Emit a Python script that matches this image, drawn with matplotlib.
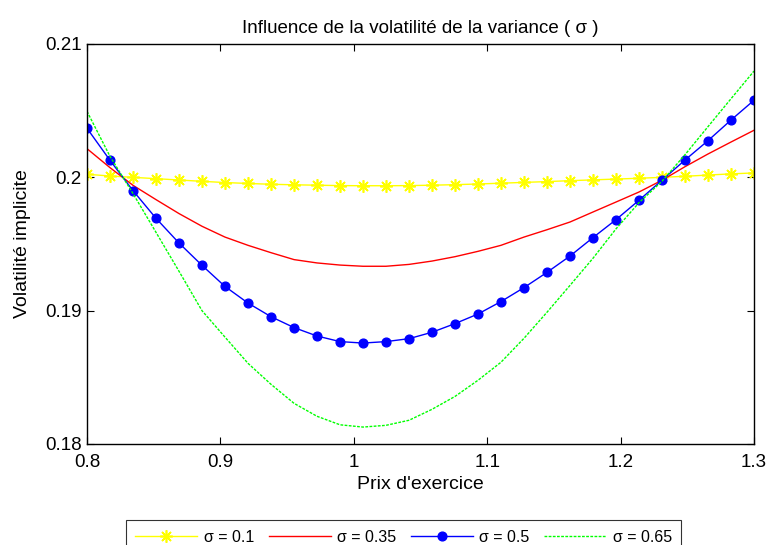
import matplotlib
matplotlib.use("Agg")
import matplotlib.pyplot as plt

plt.rcParams['font.family'] = ['Liberation Sans', 'DejaVu Sans']

# Strike grid (prix d'exercice)
strikes = [0.8000, 0.8172, 0.8345, 0.8517, 0.8690, 0.8862, 0.9034, 0.9207,
           0.9379, 0.9552, 0.9724, 0.9897, 1.0069, 1.0241, 1.0414, 1.0586,
           1.0759, 1.0931, 1.1103, 1.1276, 1.1448, 1.1621, 1.1793, 1.1966,
           1.2138, 1.2310, 1.2483, 1.2655, 1.2828, 1.3000]

# Implied volatility for each volatility-of-variance level
iv_s010 = [0.20023, 0.20010, 0.20000, 0.19990, 0.19980, 0.19970, 0.19961, 0.19954,
           0.19948, 0.19944, 0.19941, 0.19938, 0.19937, 0.19937, 0.19938, 0.19941,
           0.19945, 0.19950, 0.19956, 0.19962, 0.19968, 0.19975, 0.19981, 0.19987,
           0.19993, 0.20000, 0.20008, 0.20017, 0.20026, 0.20033]
iv_s035 = [0.20215, 0.20073, 0.19940, 0.19833, 0.19728, 0.19633, 0.19552, 0.19490,
           0.19435, 0.19383, 0.19358, 0.19342, 0.19333, 0.19333, 0.19347, 0.19372,
           0.19405, 0.19445, 0.19490, 0.19552, 0.19607, 0.19665, 0.19740, 0.19815,
           0.19890, 0.19978, 0.20080, 0.20175, 0.20265, 0.20353]
iv_s050 = [0.20368, 0.20128, 0.19900, 0.19693, 0.19507, 0.19340, 0.19182, 0.19057,
           0.18955, 0.18873, 0.18810, 0.18768, 0.18757, 0.18768, 0.18790, 0.18838,
           0.18903, 0.18975, 0.19068, 0.19173, 0.19287, 0.19410, 0.19548, 0.19683,
           0.19828, 0.19978, 0.20130, 0.20275, 0.20430, 0.20578]
iv_s065 = [0.20495, 0.20158, 0.19878, 0.19588, 0.19295, 0.19000, 0.18802, 0.18605,
           0.18448, 0.18305, 0.18208, 0.18144, 0.18127, 0.18140, 0.18178, 0.18260,
           0.18357, 0.18478, 0.18613, 0.18793, 0.18988, 0.19190, 0.19393, 0.19614,
           0.19810, 0.19970, 0.20170, 0.20380, 0.20590, 0.20797]

series_labels = ["σ = 0.1", "σ = 0.35", "σ = 0.5", "σ = 0.65"]

x_ticks = [0.8, 0.9, 1.0, 1.1, 1.2, 1.3]
x_tick_labels = ["0.8", "0.9", "1", "1.1", "1.2", "1.3"]
y_ticks = [0.18, 0.19, 0.20, 0.21]
y_tick_labels = ["0.18", "0.19", "0.2", "0.21"]

fig = plt.figure(figsize=(7.69, 5.45), dpi=100)
ax = fig.add_axes([87 / 769, 101 / 545, 667 / 769, 400 / 545])

ax.plot(strikes, iv_s010, color=(1, 1, 0), lw=1.0, marker=(8, 2, 0),
        markersize=9, markeredgewidth=1.2, label=series_labels[0])
ax.plot(strikes, iv_s035, color=(1, 0, 0), lw=1.0, label=series_labels[1])
ax.plot(strikes, iv_s050, color=(0, 0, 1), lw=1.0, marker='o',
        markersize=6.3, label=series_labels[2])
ax.plot(strikes, iv_s065, color=(0, 1, 0), lw=1.0, linestyle=(0, (2, 1)),
        label=series_labels[3])

ax.set_xlim(0.8, 1.3)
ax.set_ylim(0.18, 0.21)
ax.set_xticks(x_ticks)
ax.set_xticklabels(x_tick_labels)
ax.set_yticks(y_ticks)
ax.set_yticklabels(y_tick_labels)
ax.tick_params(direction='in', top=True, right=True, length=5, width=0.8,
               labelsize=13.5)
ax.tick_params(axis='x', pad=7)
ax.tick_params(axis='y', pad=4)
for sp in ax.spines.values():
    sp.set_linewidth(1.0)

ax.set_title("Influence de la volatilité de la variance ( σ )", fontsize=13.5, pad=8)
ax.set_xlabel("Prix d'exercice", fontsize=14, labelpad=4)
ax.set_ylabel("Volatilité implicite", fontsize=14, labelpad=10)

leg = fig.legend(loc='upper center', bbox_to_anchor=(403.5 / 769, 1 - 520 / 545),
                 ncol=4, fontsize=11.5, frameon=True, fancybox=False,
                 edgecolor='black', handlelength=3.9, columnspacing=0.9,
                 handletextpad=0.4, borderpad=0.6, borderaxespad=0)
leg.get_frame().set_linewidth(0.8)

fig.savefig("out.png", dpi=100)
